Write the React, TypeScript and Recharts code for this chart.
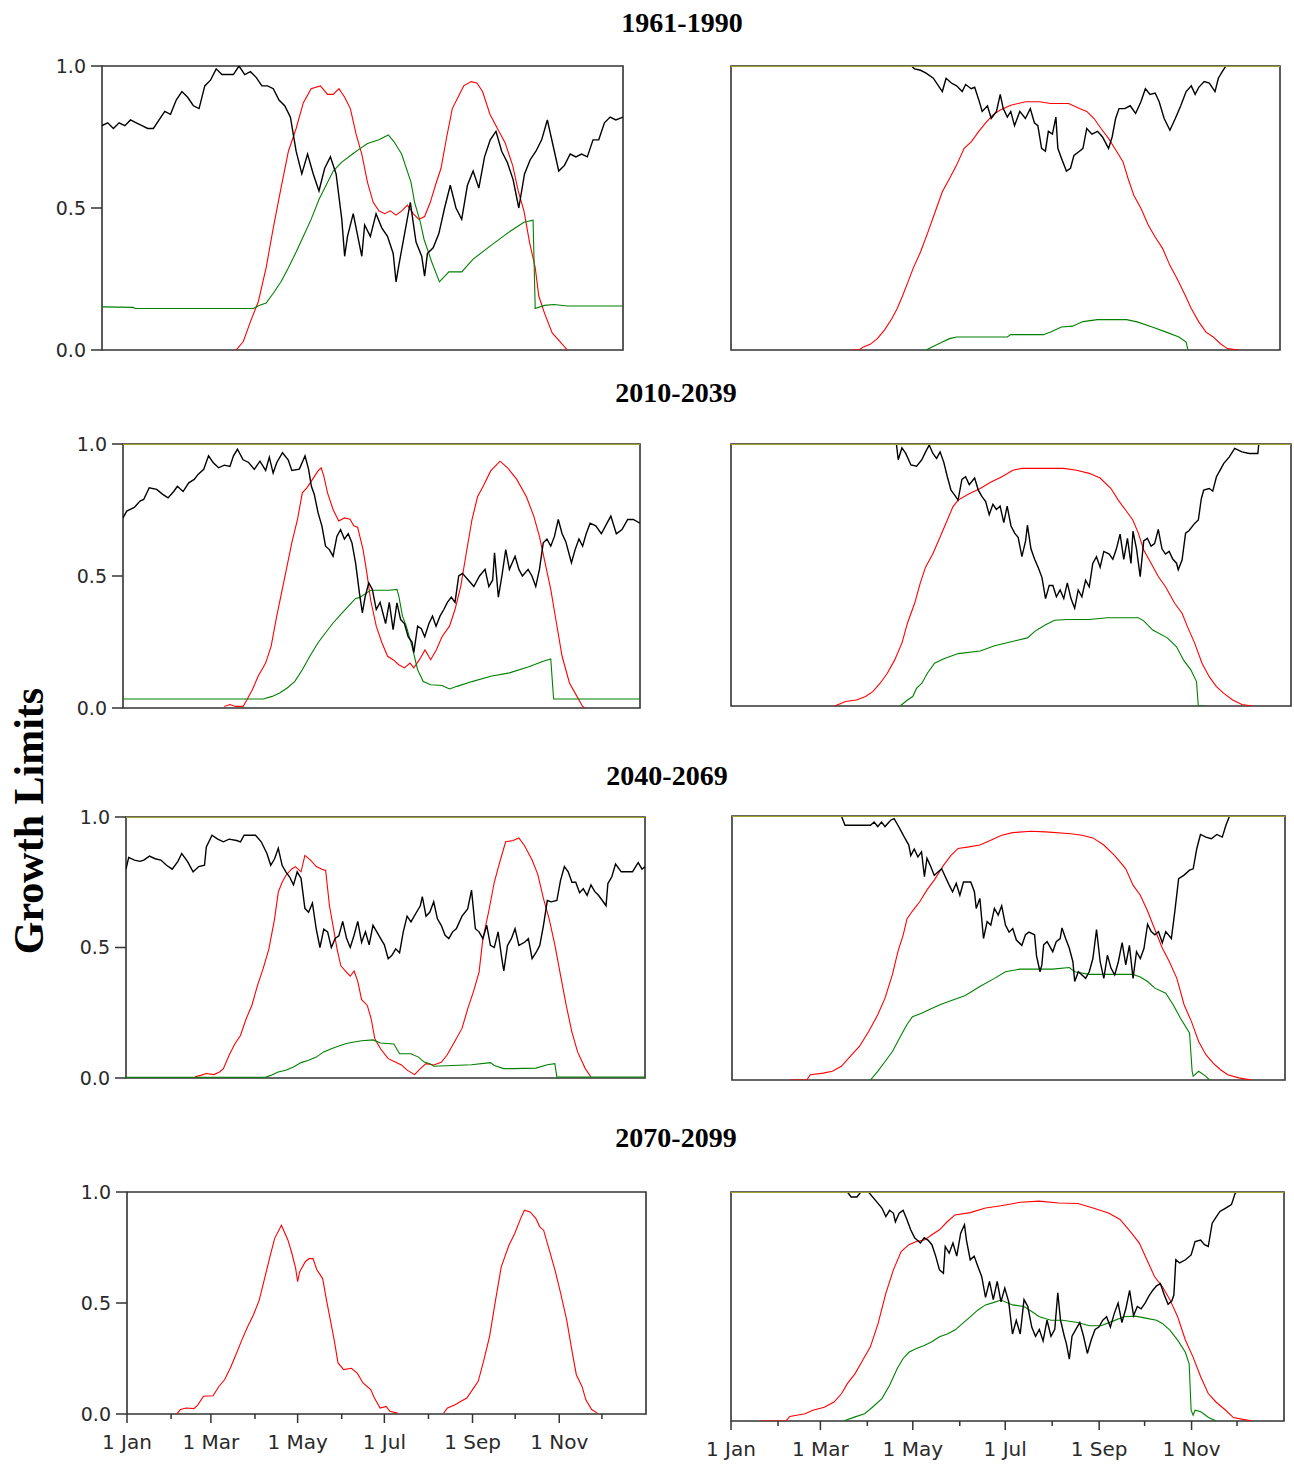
import React from 'react';
import { LineChart, Line, XAxis, YAxis, ReferenceArea } from 'recharts';

type Pt = [number, number | null];

// ---------- 1961-1990 ----------
const P1L_BLACK: Pt[] = [[0,.79],[4,.80],[8,.78],[12,.80],[16,.79],[20,.81],[24,.80],[28,.79],[32,.78],[36,.78],[40,.81],[44,.84],[48,.83],[52,.88],[56,.91],[60,.89],[64,.86],[68,.85],[72,.93],[76,.95],[80,.99],[84,.97],[88,.97],[92,.97],[96,1],[100,.97],[104,.98],[108,.96],[112,.93],[116,.93],[120,.92],[124,.88],[128,.86],[132,.82],[136,.70],[140,.62],[144,.69],[148,.62],[152,.56],[156,.64],[160,.68],[164,.62],[168,.46],[170,.33],[172,.40],[176,.48],[180,.38],[182,.33],[184,.44],[188,.40],[192,.48],[196,.43],[200,.40],[204,.34],[206,.24],[208,.30],[212,.41],[216,.52],[220,.38],[224,.33],[226,.26],[228,.34],[232,.36],[236,.41],[240,.50],[244,.58],[248,.50],[252,.46],[256,.58],[260,.63],[264,.57],[268,.68],[272,.74],[276,.77],[280,.70],[284,.66],[288,.60],[292,.50],[296,.62],[300,.67],[304,.70],[308,.74],[312,.81],[316,.72],[320,.63],[324,.65],[328,.69],[332,.68],[336,.69],[340,.68],[344,.74],[348,.74],[352,.80],[356,.82],[360,.81],[365,.82]];
const P1L_RED: Pt[] = [[94,0],[99,.03],[104,.10],[109.5,.17],[115,.29],[120,.43],[125.4,.57],[130.6,.70],[136,.78],[141,.87],[146.5,.92],[153,.93],[158,.90],[162,.90],[166,.92],[170,.89],[174,.85],[178,.76],[182,.69],[186,.59],[190,.52],[194,.49],[198,.48],[202,.49],[206,.475],[210,.49],[214,.51],[218,.48],[222,.46],[226,.47],[230,.52],[233.6,.58],[237.5,.64],[241.5,.75],[245.4,.85],[249.4,.89],[253.4,.93],[258.6,.945],[262.6,.94],[266.6,.91],[271.8,.83],[277,.78],[282.4,.73],[287.7,.65],[291.6,.56],[295.6,.49],[299.5,.38],[303.5,.29],[306,.19],[310,.13],[315.4,.06],[320.7,.03],[326,0]];
const P1L_GREEN: Pt[] = [[0,.152],[22,.15],[23,.146],[106,.146],[110,.157],[115,.165],[120,.20],[125.4,.24],[130.6,.29],[136,.345],[141,.40],[146.5,.46],[152,.53],[157,.58],[162,.63],[167.6,.66],[175.5,.69],[181,.71],[186,.727],[194,.74],[200.6,.757],[204.6,.733],[209.9,.69],[216.5,.59],[219,.52],[223,.45],[225.6,.39],[231,.31],[236.4,.24],[243,.275],[252,.275],[260,.32],[273,.37],[286.5,.42],[295.6,.45],[302,.457],[303.5,.146],[310,.157],[316.6,.16],[326,.155],[365,.155]];

const P1R_BLACK: Pt[] = [[0,1],[120,1],[122,.99],[126,.985],[129.7,.975],[134.5,.957],[140.5,.91],[143,.957],[146.5,.94],[150,.93],[153.7,.91],[156,.935],[159.7,.92],[162,.925],[164.5,.885],[167,.84],[170.5,.86],[173,.815],[176.5,.84],[179,.90],[181,.85],[183.7,.82],[186,.84],[188.5,.79],[192,.84],[195.7,.815],[199,.85],[201.7,.80],[204,.79],[206.5,.71],[209,.70],[211,.77],[213.7,.76],[216,.82],[217.3,.71],[219.7,.675],[223,.63],[225.7,.64],[228,.685],[231.7,.70],[234,.71],[236.5,.78],[240,.76],[243.7,.77],[247,.75],[251,.71],[253.4,.75],[255.7,.815],[258,.85],[261.8,.85],[265.4,.86],[269,.833],[272.6,.875],[275.5,.92],[278.6,.90],[282,.905],[284.6,.875],[288,.815],[291.8,.774],[295.4,.815],[299,.86],[302.6,.91],[306,.93],[308.6,.90],[311,.925],[314.6,.945],[318,.94],[321.8,.91],[324,.957],[326.6,.98],[329,1],[365,1]];
const P1R_RED: Pt[] = [[80.5,0],[85.3,0],[87.7,.01],[92.5,.02],[97.3,.04],[102,.07],[106.9,.11],[110.5,.146],[114,.19],[117.7,.24],[121.3,.29],[126,.345],[131,.416],[135.7,.486],[140.5,.557],[145.3,.604],[150,.651],[155,.71],[159.7,.733],[164.5,.768],[169.3,.80],[174,.827],[179,.845],[186,.862],[195.7,.874],[205,.874],[212.5,.868],[224.5,.868],[231.7,.85],[236.5,.84],[241.4,.815],[246,.78],[251,.745],[255.8,.704],[260.6,.663],[264,.604],[267.8,.545],[272.6,.498],[277.4,.44],[282,.398],[287,.357],[291.8,.298],[296.6,.251],[301.4,.199],[306,.146],[311,.099],[315.8,.063],[320.6,.046],[325.4,.022],[330,.005],[337.4,0]];
const P1R_GREEN: Pt[] = [[129.7,0],[135.7,.016],[140.5,.028],[145.3,.04],[150,.046],[183.7,.046],[186,.054],[207.7,.054],[212.5,.063],[219.7,.081],[227,.084],[234,.10],[243.7,.107],[263,.107],[270,.099],[280,.081],[289.4,.063],[297.8,.046],[302.6,.028],[303.8,0]];

// ---------- 2010-2039 ----------
const P2L_BLACK: Pt[] = [[0,.72],[2.6,.746],[8,.76],[12,.784],[14.6,.79],[18.5,.834],[23.8,.828],[27.8,.81],[31.8,.796],[35.8,.82],[38.4,.84],[42.4,.82],[46.4,.853],[50.3,.866],[53,.885],[57,.904],[60.4,.955],[63.6,.93],[67.5,.91],[71.5,.92],[75.5,.915],[78,.955],[80.8,.98],[84.8,.94],[88.7,.93],[92.7,.904],[96.7,.935],[100.7,.90],[103.3,.95],[106,.89],[108.6,.93],[112.6,.967],[116.6,.94],[119.2,.90],[124.5,.905],[128.5,.955],[131,.905],[133,.84],[135,.81],[137.7,.74],[140.4,.69],[143,.613],[145.7,.60],[148.3,.575],[151,.65],[153.6,.676],[156.3,.64],[159,.66],[161.6,.626],[164.2,.55],[166.9,.436],[169,.36],[170.9,.42],[173.5,.474],[176,.45],[178.8,.373],[181.5,.40],[185.4,.32],[188,.40],[190.7,.297],[193.4,.398],[196,.335],[198.7,.32],[201.3,.27],[204,.25],[205.3,.21],[208,.31],[210.6,.30],[213,.27],[216,.32],[218.5,.348],[221,.31],[223.8,.348],[226.5,.373],[229,.40],[231.8,.42],[234.4,.40],[237,.50],[239.7,.51],[243.7,.485],[247.7,.46],[251.7,.50],[255.6,.525],[258.3,.46],[261,.485],[262.3,.588],[265,.42],[267.5,.50],[270.2,.60],[272.8,.525],[276.8,.575],[279.5,.525],[282,.50],[286,.525],[288.7,.50],[291.4,.46],[294,.525],[296.7,.626],[299.3,.64],[302,.613],[304.6,.65],[307.3,.714],[310,.66],[312.6,.63],[316.6,.55],[319.2,.60],[321.9,.64],[324.5,.613],[327,.66],[329.8,.70],[333.8,.69],[337.7,.66],[341.7,.70],[344.4,.727],[348.3,.66],[352.3,.676],[356.3,.714],[360.3,.714],[365,.70]];
const P2L_RED: Pt[] = [[71.5,.006],[75.5,.013],[79.5,.006],[84.8,.006],[87.4,.03],[91.4,.07],[95.4,.12],[100.7,.17],[104.6,.234],[108.6,.35],[113.9,.487],[119.2,.626],[123.2,.714],[126.6,.815],[129.8,.834],[133.8,.866],[137.7,.898],[139.9,.91],[141.7,.88],[144.4,.815],[148.3,.752],[152.3,.708],[156.3,.72],[160.3,.715],[162.9,.69],[165.6,.685],[169.5,.60],[172.2,.51],[174.8,.41],[178.8,.31],[182.8,.247],[186.8,.196],[190.7,.183],[194.7,.164],[198.7,.152],[202.6,.17],[205.3,.152],[209.3,.183],[213.2,.22],[217.2,.183],[221.2,.22],[225.2,.27],[230.5,.31],[234.4,.373],[238.4,.46],[242.4,.588],[246.4,.714],[250.3,.80],[254.3,.84],[259.6,.898],[266.2,.935],[271.5,.91],[278,.866],[284.8,.80],[290,.727],[294,.65],[298,.55],[302,.449],[306,.322],[310,.196],[315.2,.095],[320.5,.044],[324.5,.006],[325.8,0]];
const P2L_GREEN: Pt[] = [[0,.034],[99,.034],[105.3,.044],[110.6,.057],[115.9,.076],[121.2,.10],[126.6,.145],[131.9,.196],[137.7,.247],[143,.285],[148.3,.322],[153.6,.354],[159,.385],[164.2,.415],[166.9,.418],[174.8,.446],[188,.446],[193.4,.449],[194.7,.425],[197.3,.348],[200,.31],[204,.234],[208,.145],[212,.10],[217.2,.088],[225.2,.085],[230.5,.072],[235.8,.082],[246.4,.10],[259.6,.12],[272.8,.133],[286,.155],[296.7,.177],[302,.186],[304,.034],[365,.034]];

const P2R_BLACK: Pt[] = [[0,1],[107.8,1],[109,.94],[111.4,.985],[113.8,.965],[117.3,.92],[121,.915],[124.4,.94],[126.8,.97],[129.2,.996],[131.5,.965],[134,.945],[136.3,.97],[138.7,.93],[141,.875],[143.4,.824],[145.8,.805],[148,.786],[150.5,.865],[152.9,.875],[155.3,.845],[158.8,.87],[161.2,.824],[163.5,.80],[166,.78],[168.3,.73],[170.7,.77],[173,.75],[175.4,.763],[177.8,.70],[180,.763],[182.5,.687],[184.9,.66],[187.2,.643],[189.6,.57],[192,.63],[193.2,.69],[195.5,.60],[197.9,.56],[200.3,.528],[202.7,.49],[205,.41],[207.4,.46],[209.8,.46],[212.1,.417],[214.5,.443],[216.9,.41],[219.2,.47],[221.6,.41],[224,.373],[226.3,.443],[228.7,.417],[231.1,.48],[233.5,.455],[235.8,.544],[238.2,.57],[240.6,.53],[243,.59],[246.5,.58],[248.9,.56],[251.2,.60],[253.6,.656],[256,.56],[258.4,.64],[260.7,.544],[262,.667],[264.3,.60],[266.7,.494],[269,.63],[271.4,.64],[273.8,.61],[276.1,.62],[278.5,.674],[280.9,.60],[283.2,.58],[285.6,.59],[288,.56],[290.4,.545],[291.5,.52],[294,.557],[296.3,.66],[298.6,.67],[302.2,.697],[304.6,.71],[306.5,.79],[308.1,.824],[311.7,.83],[314,.82],[316.4,.875],[318.8,.90],[321.2,.926],[324.7,.95],[328.3,.983],[333,.97],[337.8,.964],[343.4,.964],[344,1],[365,1]];
const P2R_RED: Pt[] = [[67.5,0],[74.7,.017],[81.8,.023],[87.7,.036],[92.4,.055],[97.2,.087],[101.9,.125],[106.7,.176],[111.4,.24],[115,.316],[119.7,.392],[123.3,.468],[126.8,.53],[131.5,.58],[136.3,.645],[141,.71],[144.6,.76],[148,.786],[155.2,.81],[162.4,.83],[169.5,.855],[176.6,.875],[183.7,.90],[189.6,.907],[216.9,.907],[225.2,.90],[233.5,.888],[240.6,.87],[247.7,.83],[252.4,.786],[257.2,.748],[261.9,.71],[265.5,.66],[269,.595],[273.8,.545],[278.5,.494],[283.2,.455],[289.2,.392],[294,.354],[297.5,.303],[302.2,.24],[307,.163],[311.7,.112],[316.4,.074],[321.2,.048],[327,.023],[333,.006],[340,0]];
const P2R_GREEN: Pt[] = [[110.2,0],[115,.023],[118.5,.036],[120.9,.067],[124.4,.087],[128,.125],[132.7,.163],[138.7,.18],[148.1,.20],[162.4,.21],[171.8,.23],[186,.25],[193.2,.26],[198,.285],[205,.31],[211,.327],[219.2,.33],[233.5,.33],[245.3,.337],[265.5,.337],[269,.325],[274.9,.29],[284.4,.26],[290.4,.226],[295,.175],[299.8,.137],[303.4,.093],[304.6,0],[309.3,0]];

// ---------- 2040-2069 ----------
const P3L_BLACK: Pt[] = [[0,.80],[1.9,.845],[5.9,.835],[9.9,.83],[12.5,.835],[16.5,.85],[20.5,.84],[24.5,.835],[28.5,.815],[32.5,.80],[36.5,.83],[39.2,.86],[43.2,.83],[47.2,.79],[51.2,.81],[55.2,.815],[56.5,.885],[60.5,.93],[64.5,.915],[68.5,.905],[72.5,.915],[77.8,.91],[80.5,.905],[83.1,.93],[91.1,.93],[95.1,.905],[99.1,.86],[101.8,.815],[104.5,.84],[107.1,.88],[109.8,.815],[112.4,.79],[115.1,.77],[117.8,.74],[120.4,.79],[123.1,.765],[124.4,.71],[125.8,.65],[128.4,.635],[131.1,.67],[133.8,.57],[136.4,.50],[139.1,.57],[141.8,.56],[144.4,.50],[147.1,.535],[149.7,.545],[152.4,.60],[155.1,.535],[157.7,.50],[160.4,.547],[163,.60],[165.7,.52],[168.4,.56],[171,.51],[173.7,.585],[176.4,.56],[179,.535],[181.7,.51],[184.4,.457],[187,.47],[189.7,.495],[192.4,.48],[195,.56],[197.7,.62],[200.4,.598],[204.4,.636],[207,.66],[208.4,.695],[211,.62],[213.7,.636],[216.4,.675],[219,.61],[221.7,.585],[224.4,.547],[227,.534],[229.7,.56],[232.3,.572],[236.3,.62],[240.3,.648],[243,.72],[245.7,.572],[248.3,.56],[251,.534],[253.7,.585],[256.3,.508],[259,.50],[261.7,.56],[264.3,.457],[265.7,.41],[268.3,.508],[271,.534],[273.6,.572],[276.3,.508],[280.3,.52],[283,.534],[285.6,.457],[288.3,.48],[291,.508],[293.6,.585],[296.3,.68],[299,.675],[303,.68],[305.6,.757],[308.3,.81],[311,.79],[313.6,.75],[316.3,.75],[319,.71],[321.6,.725],[324.3,.70],[327,.74],[329.6,.715],[332.3,.70],[335,.68],[337.6,.66],[338.9,.745],[341.6,.77],[344.3,.82],[348.3,.79],[352.3,.79],[356.2,.79],[360.2,.825],[362.9,.80],[365,.81]];
const P3L_RED: Pt[] = [[48.5,.005],[52.5,.01],[56.5,.017],[61.8,.013],[65.8,.023],[68.5,.036],[72.5,.087],[76.5,.13],[80.5,.163],[84.5,.227],[88.5,.278],[92.5,.355],[96.5,.42],[100.5,.495],[104.5,.61],[107.1,.712],[109.8,.75],[112.4,.776],[116.4,.80],[119.1,.81],[123.1,.79],[125.8,.853],[129.8,.835],[133.8,.81],[137.8,.80],[140.4,.795],[143.1,.66],[145.7,.58],[148.4,.495],[151.1,.43],[155,.406],[157.7,.39],[160.4,.41],[163,.37],[165.7,.30],[169.7,.278],[172.4,.227],[175,.15],[179,.112],[184.4,.074],[189.7,.06],[193.7,.05],[197.7,.03],[203,.013],[207,.036],[211,.055],[216.4,.05],[221.7,.06],[225.7,.087],[231,.138],[236.3,.19],[240.3,.265],[244.3,.33],[248.3,.406],[251,.534],[255,.636],[259,.75],[263,.83],[267,.905],[272.3,.91],[276.3,.92],[280.3,.89],[285.6,.835],[289.6,.78],[293.6,.687],[297.6,.61],[301.6,.51],[305.6,.393],[309.6,.278],[313.6,.176],[317.6,.10],[323,.036],[327,.004]];
const P3L_GREEN: Pt[] = [[0,.003],[98,.003],[101.8,.01],[107,.023],[112.4,.03],[117.8,.042],[123.1,.059],[128.4,.068],[133.8,.08],[139,.10],[144.4,.112],[149.7,.123],[155,.132],[160.4,.138],[165.7,.143],[173.7,.146],[179,.134],[188.4,.13],[192.4,.093],[200.4,.093],[205.7,.08],[209.7,.061],[213.7,.055],[216.4,.045],[229.7,.048],[243,.051],[256.3,.059],[259,.048],[265.7,.036],[272.3,.036],[288.3,.038],[296.3,.051],[301.6,.055],[303,.004],[365,.004]];

const P3R_BLACK: Pt[] = [[0,1],[72.2,1],[74.6,.965],[91.4,.965],[93.8,.977],[96.2,.96],[98.7,.977],[101,.96],[104.7,.984],[107,.99],[109.5,.965],[111.9,.94],[114.3,.914],[116.7,.89],[118,.85],[120.3,.875],[122.7,.845],[125.1,.864],[127,.77],[128.7,.84],[131.1,.81],[133.5,.775],[135.9,.788],[138.4,.80],[140.8,.77],[143.2,.74],[145.6,.713],[148,.745],[150.4,.70],[152.8,.75],[155.2,.75],[157.6,.75],[160,.713],[161.2,.65],[163.6,.688],[166,.536],[168.4,.60],[170.8,.587],[173.2,.65],[175.7,.625],[178,.66],[180.5,.587],[182.9,.56],[185.3,.574],[187.7,.53],[191.3,.51],[193.7,.55],[196,.56],[199.7,.55],[201,.47],[203.3,.41],[204.5,.436],[205.7,.512],[208,.524],[211.7,.486],[214,.524],[216.6,.536],[217.8,.576],[220.2,.536],[222.6,.50],[225,.448],[226.2,.373],[228.6,.41],[231,.398],[233.4,.385],[235.8,.41],[238.2,.46],[240.6,.57],[243,.448],[245.4,.385],[247.8,.473],[250.2,.423],[252.6,.398],[255,.448],[257.5,.52],[259.9,.436],[262.3,.51],[264.7,.385],[267,.486],[269.5,.46],[271.9,.498],[274.3,.59],[276.7,.562],[279.1,.55],[281.5,.562],[284,.52],[286.3,.562],[290,.536],[292.3,.64],[294.8,.763],[298.4,.776],[302,.795],[304.4,.80],[306.8,.877],[309.2,.93],[312.8,.92],[316.4,.914],[320,.93],[323.6,.92],[326,.965],[328.4,1],[365,1]];
const P3R_RED: Pt[] = [[38.5,0],[49.3,0],[51.7,.02],[60.2,.026],[66.2,.033],[72.2,.052],[78.2,.09],[84.2,.128],[90.2,.184],[96.2,.247],[101,.31],[105.9,.40],[109.5,.486],[113,.55],[115.5,.61],[119.1,.64],[124,.676],[128.7,.72],[133.5,.757],[139.6,.813],[144.4,.85],[149.2,.877],[156.4,.883],[163.6,.89],[170.8,.908],[178,.927],[185.3,.937],[197.3,.942],[207,.94],[223.8,.933],[231,.927],[238.2,.917],[245.4,.89],[252.6,.85],[259.9,.80],[264.7,.738],[269.5,.70],[274.3,.64],[279.1,.57],[284,.50],[288.7,.448],[293.6,.385],[298.4,.285],[303.2,.222],[308,.146],[312.8,.096],[317.6,.064],[322.4,.039],[327.2,.02],[334.5,.008],[342.9,0]];
const P3R_GREEN: Pt[] = [[91.4,0],[96.2,.033],[101,.07],[105.9,.108],[110.7,.16],[115.5,.21],[119.1,.24],[125.1,.253],[130,.266],[137.2,.285],[144.4,.30],[154,.32],[163.6,.354],[173.2,.385],[180.5,.41],[190,.42],[211.7,.42],[222.6,.426],[226.2,.41],[235.8,.40],[264.7,.40],[269.5,.39],[274.3,.373],[279.1,.348],[286.3,.329],[291.2,.285],[296,.234],[302,.178],[303.7,.033],[304.4,.014],[308,.033],[312.8,.014],[315.2,0]];

// ---------- 2070-2099 ----------
const P4L_RED: Pt[] = [[34.9,0],[37.6,.02],[41.6,.027],[47,.024],[49.7,.04],[53.8,.08],[60.5,.082],[64.6,.124],[68.6,.154],[72.7,.207],[76.8,.27],[80.8,.334],[84.9,.394],[88.9,.446],[93,.513],[97,.617],[101,.72],[103.8,.79],[108.6,.85],[113.2,.783],[116,.723],[118.6,.656],[120,.596],[121.4,.64],[125.4,.686],[128,.70],[130.8,.70],[133.5,.65],[137.6,.61],[140.3,.513],[143,.424],[145.7,.334],[148.4,.23],[152.4,.20],[157.8,.206],[161.9,.184],[166,.14],[171.4,.11],[174,.072],[178,.027],[182.2,.034],[184.9,.012],[190.3,.004],[205,null],[222.7,.004],[225.4,.027],[230.8,.042],[234.9,.057],[239,.072],[243,.11],[247,.147],[251,.244],[255,.35],[259.2,.513],[263.2,.663],[268.6,.76],[272.7,.813],[276.8,.88],[279.5,.918],[283.5,.91],[287.6,.88],[290.3,.843],[293,.828],[297,.738],[301,.648],[305,.543],[309.2,.424],[313.2,.275],[316,.177],[320,.124],[322.7,.064],[326.8,.02],[330.8,.004]];

const P4R_BLACK: Pt[] = [[0,1],[76.8,1],[79.3,.978],[83.1,.978],[85.7,1],[90.7,1],[95.8,.96],[99.6,.93],[102.2,.893],[104.7,.92],[107.2,.907],[108.5,.87],[111,.907],[113.6,.92],[116.1,.88],[118.6,.835],[121.2,.80],[125,.777],[127.5,.80],[130,.79],[132.6,.77],[135.1,.72],[137.6,.66],[140.2,.645],[141.4,.762],[144,.733],[146.5,.777],[149,.72],[151.6,.82],[154.1,.857],[155.4,.79],[157.9,.704],[160.5,.72],[163,.674],[165.5,.63],[168,.54],[170.6,.61],[173.1,.53],[175.7,.61],[178.2,.52],[180.7,.58],[183.3,.52],[185.8,.38],[188.3,.44],[190.9,.38],[193.4,.53],[195.9,.50],[198.5,.41],[201,.37],[203.5,.40],[206,.35],[208.6,.44],[211.2,.37],[213.7,.40],[215.7,.56],[217.5,.44],[220,.37],[221.3,.34],[223.3,.27],[225.1,.37],[227.6,.40],[230.2,.43],[232.7,.37],[235.2,.295],[237.8,.355],[240.3,.40],[242.8,.41],[245.4,.44],[247.9,.455],[250.4,.41],[253,.47],[255.5,.515],[258,.43],[260.6,.49],[263.1,.57],[265.7,.46],[268.2,.50],[270.7,.49],[273.3,.515],[275.8,.545],[278.3,.57],[280.9,.59],[283.4,.60],[286,.55],[288.5,.51],[291,.525],[292.3,.55],[293.6,.704],[296.1,.69],[300,.704],[303.7,.725],[306.3,.784],[310,.79],[312.5,.77],[315,.762],[317.6,.864],[320.2,.89],[322.7,.915],[326.5,.93],[330.3,.945],[332.8,.995],[334,1],[365,1]];
const P4R_RED: Pt[] = [[19,0],[36.2,0],[38.8,.02],[48.9,.032],[54,.047],[61.6,.06],[68,.083],[73,.12],[76.8,.163],[81.9,.207],[87,.266],[92,.324],[97.1,.426],[102.2,.557],[107.2,.66],[112.3,.74],[117.4,.77],[122.4,.784],[127.5,.79],[132.6,.813],[137.6,.835],[142.7,.87],[147.8,.90],[157.9,.91],[168,.93],[178.2,.94],[190.9,.955],[203.5,.96],[216.2,.952],[229,.95],[239,.93],[249.2,.908],[256.8,.88],[264.4,.82],[269.5,.777],[274.5,.704],[279.6,.63],[284.7,.587],[289.7,.53],[294.8,.455],[299.9,.354],[304.9,.28],[310,.193],[315,.12],[320.1,.083],[326.5,.047],[331.6,.015],[337.9,.007],[344.2,0]];
const P4R_GREEN: Pt[] = [[74.3,0],[81.9,.018],[88.2,.032],[93.3,.06],[99.6,.098],[104.7,.156],[109.8,.23],[113.6,.273],[117.4,.30],[122.4,.317],[127.5,.33],[132.6,.346],[137.6,.368],[142.7,.38],[147.8,.397],[152.9,.426],[157.9,.455],[163,.485],[168,.507],[173.1,.517],[178.2,.528],[185.8,.507],[193.4,.50],[198.5,.478],[203.5,.455],[211.2,.44],[218.8,.44],[228.9,.43],[236.5,.416],[244.1,.416],[251.7,.435],[259.3,.455],[266.9,.458],[274.5,.448],[280.9,.44],[284.7,.426],[289.7,.397],[294.8,.353],[299.9,.30],[302.4,.25],[303.7,.047],[305,.025],[306.3,.047],[310.1,.04],[315.2,.015],[320.2,0]];

const OLIVE_LINE: Pt[] = [[0,1],[365,1]];

const MONTH_TICKS = [0,31,59,90,120,151,181,212,243,273,304,334];
const MONTH_LABELS: Record<number, string> = { 0: '1 Jan', 59: '1 Mar', 120: '1 May', 181: '1 Jul', 243: '1 Sep', 304: '1 Nov' };
const Y_TICKS = [0, 0.5, 1];
const TITLES = ['1961-1990', '2010-2039', '2040-2069', '2070-2099'];
const TITLE_POS: [number, number][] = [[682, 23], [676, 393], [667, 776], [676, 1138]];

const toRows = (pts: Pt[]) => pts.map(([d, v]) => ({ d, v }));

interface PanelSpec {
  rect: [number, number, number, number];
  black?: Pt[];
  red?: Pt[];
  green?: Pt[];
  olive: boolean;
  yAxis: boolean;
  xAxis: boolean;
}

const PANELS: PanelSpec[] = [
  { rect: [102, 66, 623, 350], black: P1L_BLACK, red: P1L_RED, green: P1L_GREEN, olive: false, yAxis: true, xAxis: false },
  { rect: [731, 66, 1280, 350], black: P1R_BLACK, red: P1R_RED, green: P1R_GREEN, olive: true, yAxis: false, xAxis: false },
  { rect: [123, 444, 640, 708], black: P2L_BLACK, red: P2L_RED, green: P2L_GREEN, olive: true, yAxis: true, xAxis: false },
  { rect: [731, 444, 1291, 706], black: P2R_BLACK, red: P2R_RED, green: P2R_GREEN, olive: true, yAxis: false, xAxis: false },
  { rect: [126, 817, 645, 1078], black: P3L_BLACK, red: P3L_RED, green: P3L_GREEN, olive: true, yAxis: true, xAxis: false },
  { rect: [732, 816, 1285, 1080], black: P3R_BLACK, red: P3R_RED, green: P3R_GREEN, olive: true, yAxis: false, xAxis: false },
  { rect: [127, 1192, 646, 1414], red: P4L_RED, olive: false, yAxis: true, xAxis: true },
  { rect: [731, 1192, 1284, 1421], black: P4R_BLACK, red: P4R_RED, green: P4R_GREEN, olive: true, yAxis: false, xAxis: true },
];

function MonthTick(props: any) {
  const { x, y, payload } = props;
  const label = MONTH_LABELS[payload.value];
  return (
    <g>
      <line x1={x} x2={x} y1={y} y2={y + (label ? 9 : 5)} stroke="#333" strokeWidth={1.5} />
      {label ? (
        <text x={x} y={y + 35} textAnchor="middle" fontSize={20} fontFamily="DejaVu Sans" fill="#2a2a2a">
          {label}
        </text>
      ) : null}
    </g>
  );
}

function Panel({ spec }: { spec: PanelSpec }) {
  const [x0, y0, x1, y1] = spec.rect;
  const yw = 70, mt = 10, mr = 10, xh = 45;
  const w = x1 - x0 + yw + mr;
  const h = y1 - y0 + mt + (spec.xAxis ? xh + 5 : 10);
  const lineProps = { type: 'linear' as const, dataKey: 'v', dot: false, activeDot: false, isAnimationActive: false, connectNulls: false };
  return (
    <div style={{ position: 'absolute', left: x0 - yw, top: y0 - mt, width: w, height: h }}>
      <LineChart width={w} height={h} margin={{ top: mt, right: mr, bottom: spec.xAxis ? 5 : 10, left: spec.yAxis ? 0 : yw }}>
        <XAxis
          type="number"
          dataKey="d"
          domain={[0, 365]}
          allowDataOverflow
          hide={!spec.xAxis}
          height={xh}
          ticks={MONTH_TICKS}
          interval={0}
          tickSize={0}
          tickMargin={0}
          tickLine={false}
          axisLine={false}
          tick={(p: any) => <MonthTick {...p} />}
        />
        <YAxis
          type="number"
          domain={[0, 1]}
          allowDataOverflow
          hide={!spec.yAxis}
          width={yw}
          ticks={Y_TICKS}
          interval={0}
          tickSize={11}
          tickMargin={5}
          axisLine={false}
          tickLine={{ stroke: '#333', strokeWidth: 1.5 }}
          tick={{ fill: '#2a2a2a', fontSize: 19, fontFamily: 'DejaVu Sans' }}
          tickFormatter={(v: number) => v.toFixed(1)}
        />
        <ReferenceArea x1={0} x2={365} y1={0} y2={1} fill="none" fillOpacity={0} stroke="#333" strokeWidth={1.6} ifOverflow="visible" />
        {spec.red && <Line {...lineProps} data={toRows(spec.red)} stroke="#ff0000" strokeWidth={1.1} />}
        {spec.green && <Line {...lineProps} data={toRows(spec.green)} stroke="#008000" strokeWidth={1.1} />}
        {spec.black && <Line {...lineProps} data={toRows(spec.black)} stroke="#000000" strokeWidth={1.4} />}
        {spec.olive && <Line {...lineProps} data={toRows(OLIVE_LINE)} stroke="#a0a02a" strokeWidth={2.2} />}
      </LineChart>
    </div>
  );
}

export default function App() {
  return (
    <div style={{ position: 'absolute', left: 0, top: 0, width: 1294, height: 1464, background: '#ffffff' }}>
      {TITLES.map((t, i) => (
        <div
          key={t}
          style={{
            position: 'absolute',
            left: TITLE_POS[i][0] - 150,
            top: TITLE_POS[i][1] - 14,
            width: 300,
            textAlign: 'center',
            fontFamily: 'Liberation Serif',
            fontWeight: 'bold',
            fontSize: 28,
            lineHeight: '28px',
            color: '#000',
          }}
        >
          {t}
        </div>
      ))}
      <div
        style={{
          position: 'absolute',
          left: 28.5 - 200,
          top: 821 - 25,
          width: 400,
          height: 50,
          lineHeight: '50px',
          textAlign: 'center',
          fontFamily: 'Liberation Serif',
          fontWeight: 'bold',
          fontSize: 42,
          color: '#000',
          transform: 'rotate(-90deg)',
          whiteSpace: 'nowrap',
        }}
      >
        Growth Limits
      </div>
      {PANELS.map((p, i) => (
        <Panel key={i} spec={p} />
      ))}
    </div>
  );
}
